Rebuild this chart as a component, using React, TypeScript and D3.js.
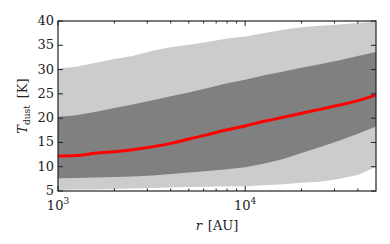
import { useEffect, useRef } from "react"
import * as d3 from "d3"

// radius in AU
const radius = [1000, 1250, 1600, 2000, 2500, 3200, 4000, 5000, 6300, 8000, 10000, 12500, 16000, 20000, 25000, 32000, 40000, 50000]

// dust temperature percentiles [K]
const outerHigh = [30.2, 30.6, 31.4, 32.2, 32.8, 33.9, 34.6, 35.1, 35.7, 36.4, 36.8, 37.5, 38.2, 38.7, 39.0, 39.3, 39.6, 39.9]
const innerHigh = [20.3, 20.6, 21.3, 22.1, 22.8, 23.7, 24.5, 25.3, 26.2, 27.2, 27.9, 28.8, 29.6, 30.4, 31.1, 31.9, 32.8, 33.6]
const median = [12.2, 12.3, 12.8, 13.1, 13.5, 14.1, 14.8, 15.7, 16.6, 17.6, 18.4, 19.3, 20.2, 21.0, 21.8, 22.7, 23.6, 24.8]
const innerLow = [7.6, 7.7, 7.8, 7.9, 8.0, 8.2, 8.5, 8.8, 9.1, 9.5, 9.9, 10.6, 11.6, 12.8, 14.0, 15.4, 16.8, 18.3]
const outerLow = [5.2, 5.3, 5.3, 5.4, 5.5, 5.6, 5.7, 5.8, 5.9, 6.0, 6.0, 6.2, 6.4, 6.7, 6.9, 7.5, 8.3, 10.0]

const yTicks = [5, 10, 15, 20, 25, 30, 35, 40]
const xMajor = [1000, 10000]
const xMinor = [2000, 3000, 4000, 5000, 6000, 7000, 8000, 9000, 20000, 30000, 40000]

export default function App() {
  const svgRef = useRef<SVGSVGElement>(null)

  useEffect(() => {
    if (!svgRef.current) return
    d3.select(svgRef.current).selectAll("*").remove()

    const W = 390
    const H = 244
    const margin = { top: 21, right: 14, bottom: 53, left: 58 }
    const width = W - margin.left - margin.right
    const height = H - margin.top - margin.bottom
    const font = "DejaVu Serif"
    const ink = "#222"

    const svg = d3.select(svgRef.current).attr("width", W).attr("height", H)
    const g = svg.append("g").attr("transform", `translate(${margin.left},${margin.top})`)

    const x = d3.scaleLog().domain([1000, 50000]).range([0, width])
    const y = d3.scaleLinear().domain([5, 40]).range([height, 0])

    const band = (lo: number[], hi: number[]) =>
      d3
        .area<number>()
        .x((d) => x(d))
        .y0((_, i) => y(lo[i]))
        .y1((_, i) => y(hi[i]))(radius)

    g.append("path").attr("d", band(outerLow, outerHigh)).attr("fill", "#cccccc")
    g.append("path").attr("d", band(innerLow, innerHigh)).attr("fill", "#808080")

    const line = d3
      .line<number>()
      .x((d) => x(d))
      .y((_, i) => y(median[i]))
      .curve(d3.curveMonotoneX)

    g.append("path")
      .attr("d", line(radius))
      .attr("fill", "none")
      .attr("stroke", "#ff0000")
      .attr("stroke-width", 3)

    // ticks on all four sides, pointing inward
    const tickLine = (x1: number, y1: number, x2: number, y2: number) =>
      g.append("line")
        .attr("x1", x1).attr("y1", y1).attr("x2", x2).attr("y2", y2)
        .attr("stroke", ink).attr("stroke-width", 1)

    xMajor.forEach((v) => {
      tickLine(x(v), height, x(v), height - 5)
      tickLine(x(v), 0, x(v), 5)
    })
    xMinor.forEach((v) => {
      tickLine(x(v), height, x(v), height - 2.5)
      tickLine(x(v), 0, x(v), 2.5)
    })
    yTicks.forEach((v) => {
      tickLine(0, y(v), 5, y(v))
      tickLine(width, y(v), width - 5, y(v))
    })

    g.append("rect")
      .attr("width", width)
      .attr("height", height)
      .attr("fill", "none")
      .attr("stroke", ink)
      .attr("stroke-width", 1.2)

    // y tick labels
    g.selectAll(".ylab")
      .data(yTicks)
      .enter()
      .append("text")
      .attr("x", -4)
      .attr("y", (d) => y(d) + 4)
      .attr("text-anchor", "end")
      .attr("font-family", font)
      .attr("font-size", 13)
      .attr("fill", ink)
      .text((d) => d)

    // x tick labels 10^n
    xMajor.forEach((v) => {
      const t = g.append("text")
        .attr("x", x(v))
        .attr("y", height + 19)
        .attr("text-anchor", "middle")
        .attr("font-family", font)
        .attr("font-size", 13)
        .attr("fill", ink)
      t.append("tspan").text("10")
      t.append("tspan")
        .attr("dy", -6)
        .attr("font-size", 9)
        .text(String(Math.round(Math.log10(v))))
    })

    // axis titles
    const xt = g.append("text")
      .attr("x", width / 2)
      .attr("y", height + 39)
      .attr("text-anchor", "middle")
      .attr("font-family", font)
      .attr("font-size", 13)
      .attr("fill", ink)
    xt.append("tspan").attr("font-style", "italic").text("r")
    xt.append("tspan").attr("dx", 6).text("[AU]")

    const yt = g.append("text")
      .attr("transform", `translate(${-31},${height / 2}) rotate(-90)`)
      .attr("text-anchor", "middle")
      .attr("font-family", font)
      .attr("font-size", 13)
      .attr("fill", ink)
    yt.append("tspan").attr("font-style", "italic").text("T")
    yt.append("tspan").attr("dy", 3).attr("font-size", 9).text("dust")
    yt.append("tspan").attr("dy", -3).attr("dx", 7).text("[K]")
  }, [])

  return <svg ref={svgRef} style={{ position: "absolute", left: 0, top: 0 }} />
}
